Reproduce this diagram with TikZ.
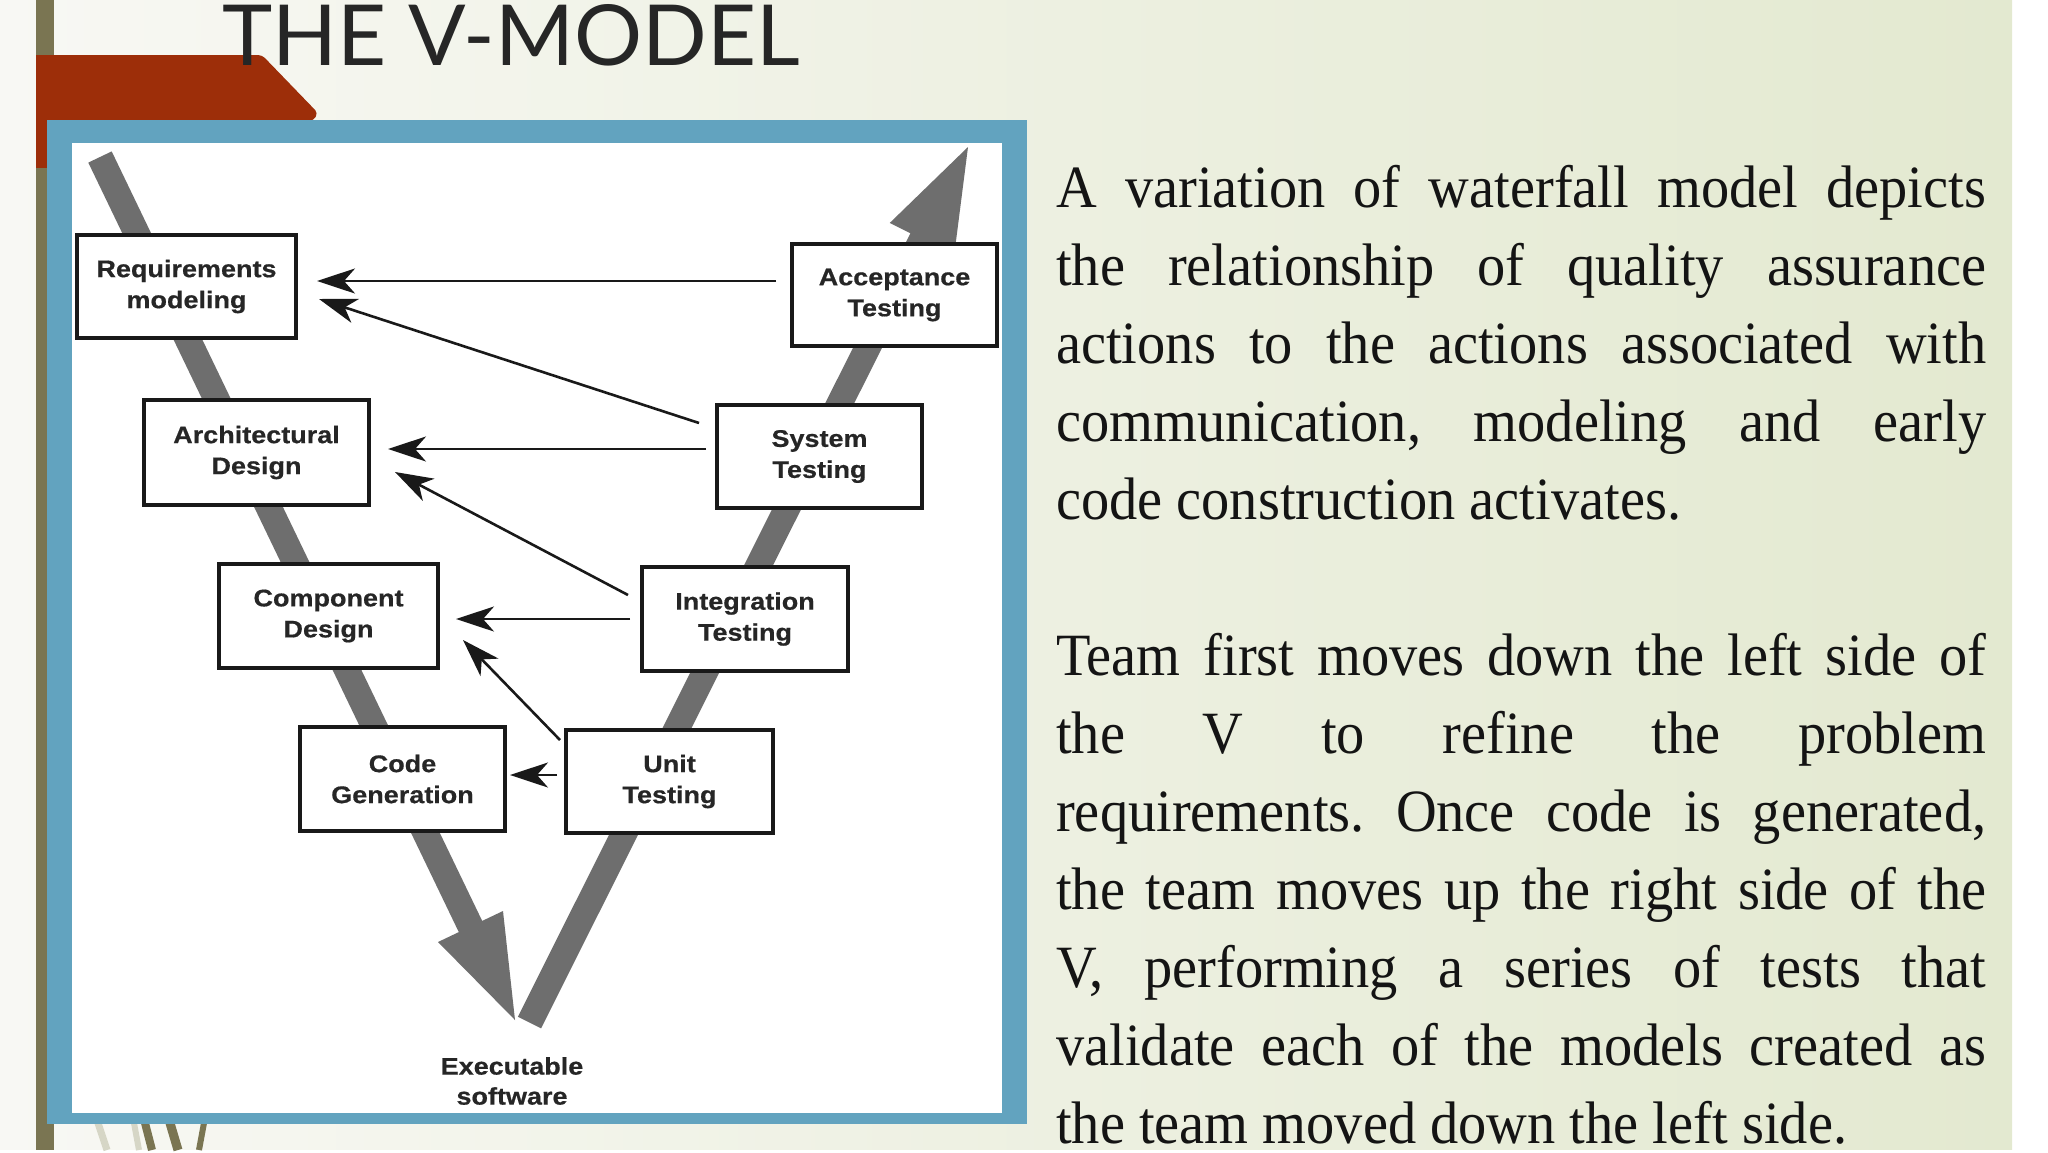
\documentclass[tikz,border=0pt]{standalone}
\usepackage{fontspec}
\usepackage{graphicx}
\setmainfont{Liberation Serif}
\newfontfamily\bodyfont{Liberation Serif}[FakeStretch=0.94]
\newfontfamily\boxfont{Liberation Sans Bold}[FakeStretch=1.125,FakeBold=0.6]
\newfontfamily\titlefont{Lato}
\usetikzlibrary{arrows.meta,calc}
\definecolor{vblue}{RGB}{98,163,191}
\definecolor{vred}{RGB}{157,46,9}
\definecolor{volive}{RGB}{122,117,82}
\definecolor{vlight}{RGB}{214,214,198}
\definecolor{vgray}{RGB}{110,110,110}
\definecolor{bgL}{RGB}{248,248,244}
\definecolor{bgM}{RGB}{240,243,233}
\definecolor{bgR}{RGB}{227,233,208}
\definecolor{ttl}{RGB}{38,38,38}
\tikzset{
  vbox/.style={draw=black!90, line width=4pt, fill=white, inner sep=0pt, align=center,
    font=\boxfont\fontsize{24}{31}\selectfont, text=black!85},
  lbl/.style={inner sep=0pt, align=center, font=\boxfont\fontsize{24}{30}\selectfont, text=black!85},
  conn/.style={draw=black!90, line width=2.6pt, -{Stealth[length=38pt,width=25pt,inset=11pt]}},
  para/.style={anchor=base west, inner sep=0pt, font=\bodyfont\fontsize{60}{78}\selectfont, text=black!92},
  arm/.style={fill=vgray}
}
\begin{document}
\frenchspacing
\begin{tikzpicture}[x=1pt,y=-1pt]
\useasboundingbox (0,0) rectangle (2048,1152);
% background
\fill[white] (0,0) rectangle (2048,1152);
\shade[left color=bgL, middle color=bgM, right color=bgR] (0,0) rectangle (2012,1149);
% left olive stripe and bottom strokes
\fill[volive] (36,0) rectangle (54,1150);
\draw[vlight, line width=7pt] (98,1123) -- (107,1150);
\draw[vlight, line width=6pt] (134,1123) -- (139,1150);
\draw[volive, line width=8pt] (145,1123) -- (152,1150);
\draw[volive, line width=9pt] (170,1123) -- (178,1150);
\draw[volive, line width=6pt] (204,1123) -- (199,1150);
% red tab
\fill[vred, rounded corners=4pt] (36,55) -- (262,55) -- (318,113) -- (313,121) -- (36,121) -- cycle;
\fill[vred] (36,55) rectangle (48,168);
% title
\node[anchor=base west, inner sep=0pt, text=ttl] (title) at (222,65)
  {\resizebox{577pt}{61pt}{\titlefont THE V-MODEL}};
% blue frame
\fill[vblue] (47,120) rectangle (1027,1124);
\fill[white] (72,143) rectangle (1002,1113);
% V arms
\fill[arm] (111.7,151.4) -- (482.2,920.9) -- (503,911) -- (515,1020) -- (438,942) -- (458.8,932.1) -- (88.3,162.6) -- cycle;
\fill[arm] (517.9,1016.7) -- (910.4,233.2) -- (889.8,222.9) -- (968,147) -- (954.2,255.1) -- (933.6,244.8) -- (541.1,1028.3) -- cycle;
% boxes
\node[vbox, minimum width=219pt, minimum height=103pt] (req) at (186.5,286.5) {Requirements\\modeling};
\node[vbox, minimum width=205pt, minimum height=102pt] (acc) at (894.5,295) {Acceptance\\Testing};
\node[vbox, minimum width=225pt, minimum height=105pt] (arch) at (256.5,452.5) {Architectural\\Design};
\node[vbox, minimum width=205pt, minimum height=103pt] (sys) at (819.5,456.5) {System\\Testing};
\node[vbox, minimum width=219pt, minimum height=104pt] (comp) at (328.5,616) {Component\\Design};
\node[vbox, minimum width=206pt, minimum height=104pt] (integ) at (745,619) {Integration\\Testing};
\node[vbox, minimum width=205pt, minimum height=104pt] (code) at (402.5,779) {Code\\Generation};
\node[vbox, minimum width=207pt, minimum height=103pt] (unit) at (669.5,781.5) {Unit\\Testing};
\node[lbl] (exe) at (512,1081) {Executable\\software};
% connectors
\draw[conn] ($(acc.west)+(-14,-14)$) -- ($(req.east)+(19,-5.5)$);
\draw[conn] ($(sys.north west)+(-16,20)$) -- ($(req.east)+(21,12.5)$);
\draw[conn] ($(sys.west)+(-9,-7.5)$) -- ($(arch.east)+(17,-3.5)$);
\draw[conn] ($(integ.north west)+(-12,30)$) -- ($(arch.east)+(24,19.5)$);
\draw[conn] ($(integ.west)+(-10,0)$) -- ($(comp.east)+(16,3)$);
\draw[conn] ($(unit.north west)+(-4,12)$) -- ($(comp.east)+(23,24)$);
\draw[conn] ($(unit.west)+(-7,-6.5)$) -- ($(code.east)+(3,-4)$);
% right text
\node[para] (p1) at (1056,207) {\makebox[930pt][s]{A variation of waterfall model depicts}};
\node[para] (p2) at (1056,285) {\makebox[930pt][s]{the relationship of quality assurance}};
\node[para] (p3) at (1056,363) {\makebox[930pt][s]{actions to the actions associated with}};
\node[para] (p4) at (1056,441) {\makebox[930pt][s]{communication, modeling and early}};
\node[para] (p5) at (1056,519) {code construction activates.};
\node[para] (q1) at (1056,675) {\makebox[930pt][s]{Team first moves down the left side of}};
\node[para] (q2) at (1056,753) {\makebox[930pt][s]{the V to refine the problem}};
\node[para] (q3) at (1056,831) {\makebox[930pt][s]{requirements. Once code is generated,}};
\node[para] (q4) at (1056,909) {\makebox[930pt][s]{the team moves up the right side of the}};
\node[para] (q5) at (1056,987) {\makebox[930pt][s]{V, performing a series of tests that}};
\node[para] (q6) at (1056,1065) {\makebox[930pt][s]{validate each of the models created as}};
\node[para] (q7) at (1056,1143) {the team moved down the left side.};
\end{tikzpicture}
\end{document}
